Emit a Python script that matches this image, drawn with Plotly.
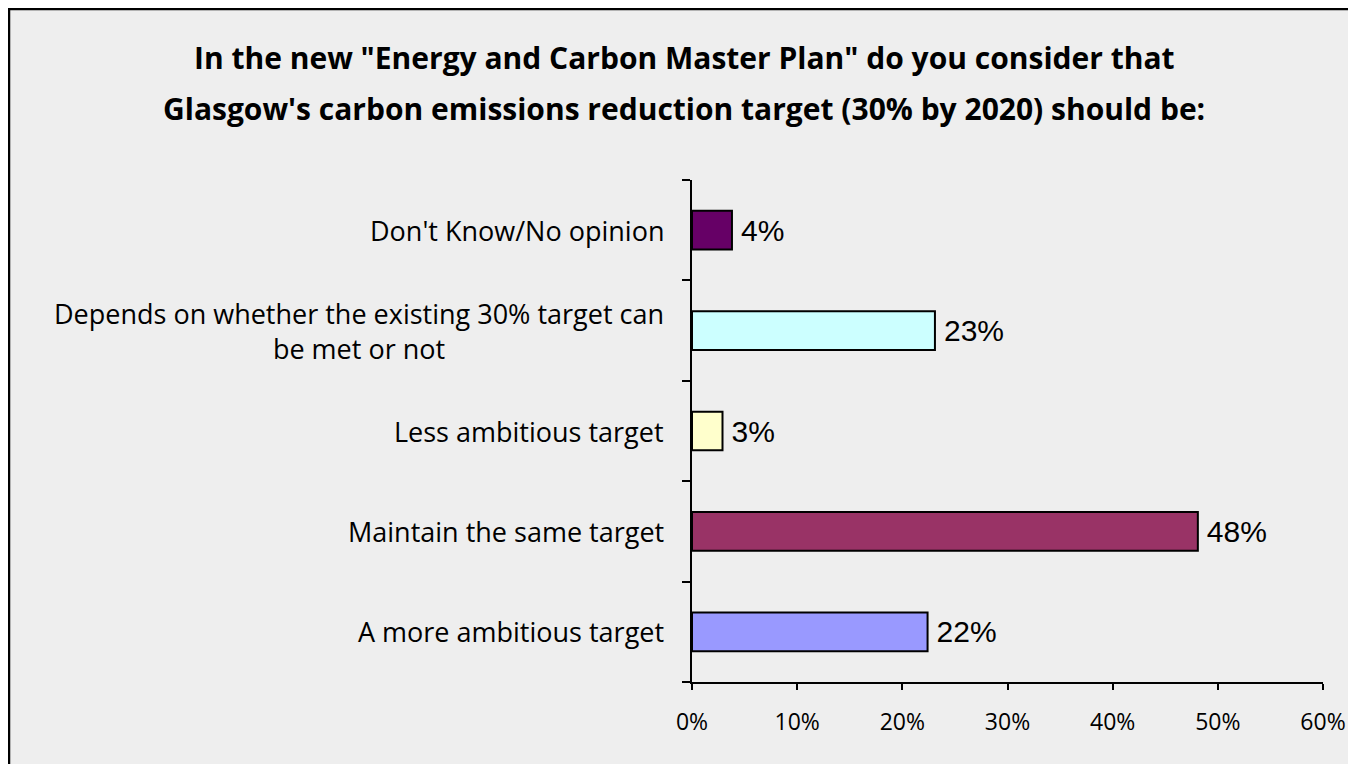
import plotly.graph_objects as go

# survey answers, bottom to top as drawn
categories = [
    "A more ambitious target",
    "Maintain the same target",
    "Less ambitious target",
    "Depends on whether the existing 30% target can<br>be met or not",
    "Don't Know/No opinion",
]
shares = [22.4, 48.1, 2.9, 23.1, 3.8]
bar_colors = ["#9999FF", "#993366", "#FFFFCC", "#CCFFFF", "#660066"]
x_ticks = [0, 10, 20, 30, 40, 50, 60]

title_lines = [
    "In the new \"Energy and Carbon Master Plan\" do you consider that",
    "Glasgow's carbon emissions reduction target (30% by 2020) should be:",
]

W, H = 1356, 764
ml, mr, mt, mb = 684, 41, 172, 90
pw, ph = W - ml - mr, H - mt - mb

LABEL_FONT = "Open Sans, Lato, sans-serif"

fig = go.Figure()
fig.add_trace(go.Bar(
    y=categories,
    x=shares,
    orientation="h",
    width=0.385,
    marker=dict(color=bar_colors, line=dict(color="black", width=2)),
    texttemplate="\u2009%{x:.0f}%",
    textposition="outside",
    textfont=dict(family="Liberation Sans, Arial", size=30, color="black"),
    cliponaxis=False,
    hoverinfo="skip",
))

# category labels as annotations so the wrapped one can be centred
for cat in categories:
    fig.add_annotation(
        text=cat, xref="paper", x=0, yref="y", y=cat,
        xanchor="right", yanchor="middle", xshift=-26, align="center",
        showarrow=False,
        font=dict(family=LABEL_FONT, size=27, color="black"),
    )

# two-line title, placed line by line to get the wide line spacing
for line, fy in zip(title_lines, [49, 101]):
    fig.add_annotation(
        text=f"<b>{line}</b>", xref="paper", x=(676 - ml) / pw,
        yref="paper", y=1 + (mt - fy) / ph,
        xanchor="center", yanchor="middle", showarrow=False,
        font=dict(family=LABEL_FONT, size=30, color="black"),
    )

# outer frame of the chart area
fig.add_shape(
    type="rect", xref="paper", yref="paper",
    x0=(1 - ml) / pw, x1=(W + 20 - ml) / pw,
    y0=-(mb + 20) / ph, y1=(ph + mt - 1) / ph,
    line=dict(color="black", width=2.5), fillcolor="rgba(0,0,0,0)",
    layer="below",
)

fig.update_layout(
    width=W, height=H,
    margin=dict(l=ml, r=mr, t=mt, b=mb),
    paper_bgcolor="#EEEEEE",
    plot_bgcolor="#EEEEEE",
    showlegend=False,
    font=dict(family=LABEL_FONT, color="black"),
)
fig.update_xaxes(
    range=[0, 60],
    tickvals=x_ticks,
    ticktext=[f"{v}%" for v in x_ticks],
    showgrid=False, zeroline=False,
    showline=True, linecolor="black", linewidth=2,
    ticks="outside", ticklen=6, tickwidth=2, tickcolor="black",
    tickfont=dict(size=23),
    ticklabelstandoff=12,
    fixedrange=True,
)
fig.update_yaxes(
    type="category",
    categoryorder="array", categoryarray=categories,
    tickson="boundaries",
    showticklabels=False,
    showgrid=False, zeroline=False,
    showline=True, linecolor="black", linewidth=2,
    ticks="outside", ticklen=8, tickwidth=2, tickcolor="black",
    fixedrange=True,
)

fig.write_html("out.html")
